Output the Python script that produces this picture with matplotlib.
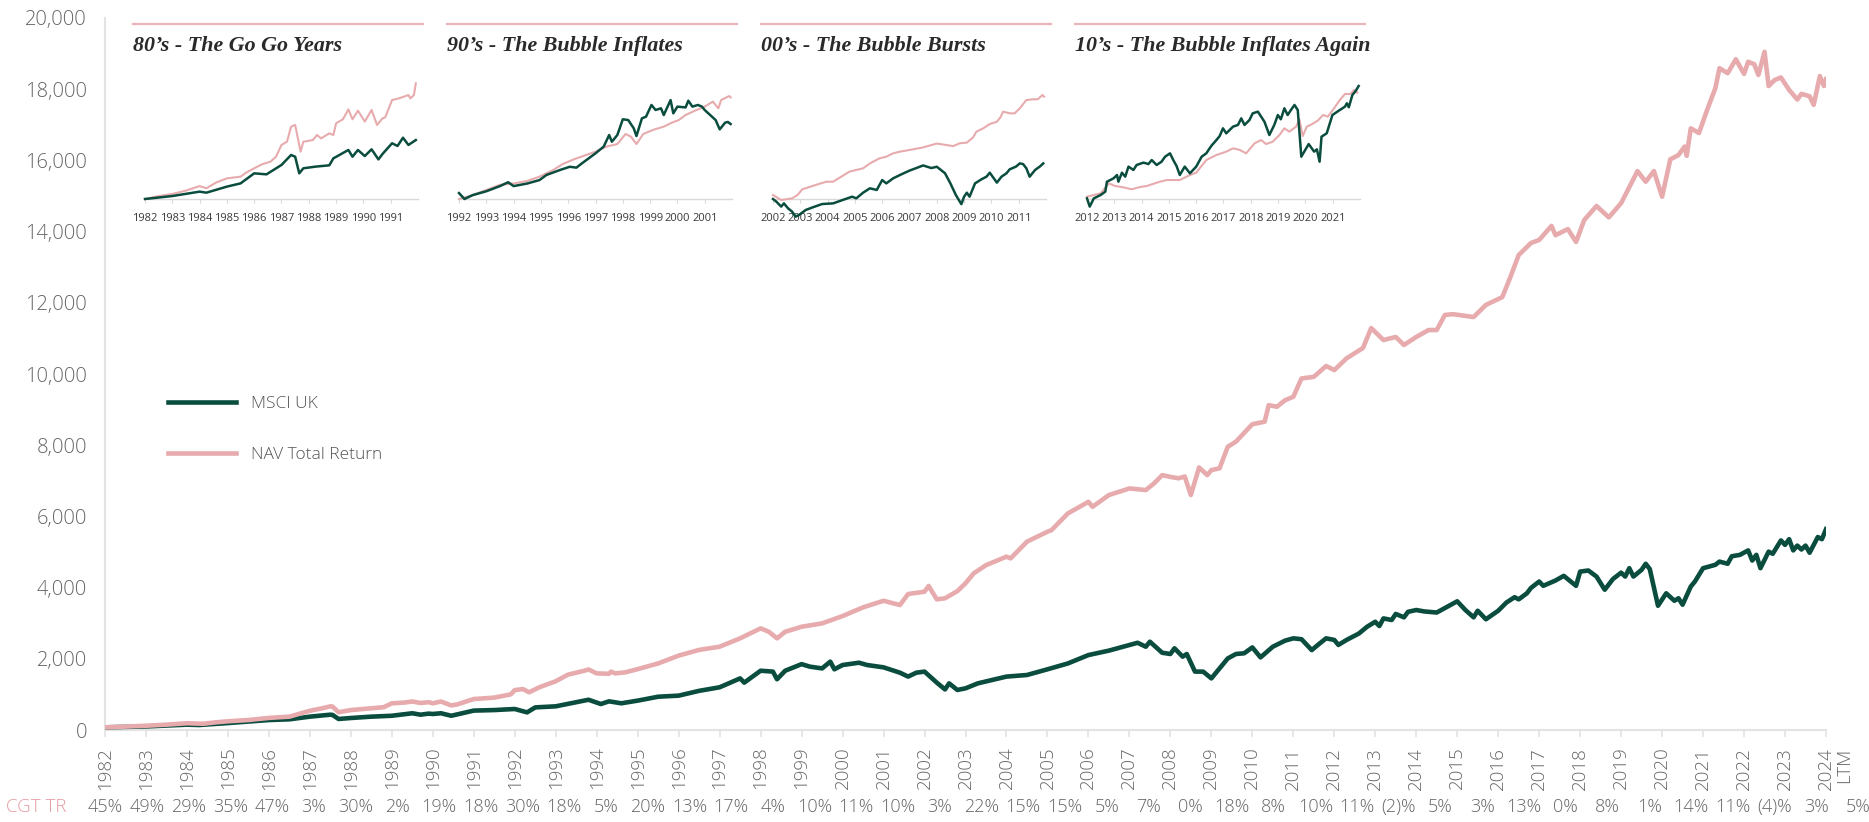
import matplotlib
matplotlib.use("Agg")
import matplotlib.pyplot as plt
import matplotlib.transforms as mtransforms
from matplotlib.lines import Line2D
from matplotlib.ticker import FuncFormatter

# ---------------- data ----------------
nav_t = [1982.0, 1982.5, 1983.0, 1983.5, 1984.0, 1984.4, 1984.7, 1985.0, 1985.5, 1986.0, 1986.5,
         1987.0, 1987.3, 1987.5, 1987.55, 1987.7, 1988.0, 1988.5, 1988.8, 1989.0, 1989.3, 1989.5,
         1989.7, 1989.9, 1990.0, 1990.2, 1990.45, 1990.6, 1991.0, 1991.5, 1991.9, 1992.0, 1992.2,
         1992.35, 1992.6, 1993.0, 1993.3, 1993.7, 1993.8, 1994.0, 1994.3, 1994.35, 1994.45, 1994.7,
         1995.0, 1995.5, 1996.0, 1996.5, 1997.0, 1997.5, 1998.0, 1998.2, 1998.4, 1998.6, 1999.0,
         1999.5, 2000.0, 2000.5, 2001.0, 2001.4, 2001.6, 2002.0, 2002.1, 2002.3, 2002.5, 2002.8,
         2003.0, 2003.2, 2003.5, 2004.0, 2004.1, 2004.5, 2005.0, 2005.1, 2005.5, 2006.0, 2006.1,
         2006.5, 2007.0, 2007.4, 2007.6, 2007.8, 2008.0, 2008.2, 2008.35, 2008.5, 2008.7, 2008.9,
         2009.0, 2009.2, 2009.4, 2009.6, 2010.0, 2010.3, 2010.4, 2010.6, 2010.8, 2011.0, 2011.2,
         2011.5, 2011.8, 2012.0, 2012.3, 2012.7, 2012.9, 2013.2, 2013.5, 2013.7, 2014.0, 2014.3,
         2014.5, 2014.7, 2014.9, 2015.4, 2015.7, 2016.1, 2016.3, 2016.5, 2016.8, 2017.0, 2017.3,
         2017.4, 2017.7, 2017.9, 2018.1, 2018.4, 2018.7, 2019.0, 2019.2, 2019.4, 2019.6, 2019.8,
         2020.0, 2020.2, 2020.4, 2020.55, 2020.6, 2020.7, 2020.9, 2021.1, 2021.3, 2021.4, 2021.6,
         2021.8, 2022.0, 2022.1, 2022.25, 2022.35, 2022.5, 2022.6, 2022.75, 2022.9, 2023.1, 2023.3,
         2023.4, 2023.6, 2023.7, 2023.85, 2023.95, 2024.0]
nav_v = [75, 95, 120, 150, 190, 175, 215, 245, 280, 340, 375,
         540, 610, 665, 660, 500, 560, 610, 640, 750, 770, 800,
         760, 780, 750, 800, 690, 720, 870, 910, 1000, 1120, 1150,
         1060, 1200, 1370, 1555, 1665, 1700, 1590, 1580, 1640, 1590, 1620,
         1710, 1870, 2090, 2250, 2340, 2575, 2855, 2760, 2575, 2760, 2900,
         2995, 3200, 3445, 3630, 3510, 3820, 3885, 4045, 3670, 3700, 3900,
         4120, 4400, 4630, 4870, 4820, 5290, 5570, 5615, 6085, 6410, 6270,
         6600, 6785, 6740, 6925, 7160, 7110, 7070, 7120, 6600, 7375, 7160,
         7300, 7350, 7955, 8100, 8590, 8660, 9125, 9080, 9265, 9360, 9875,
         9920, 10225, 10110, 10440, 10730, 11290, 10955, 11040, 10815, 11040, 11235,
         11235, 11660, 11680, 11600, 11940, 12160, 12730, 13340, 13680, 13765, 14160,
         13900, 14070, 13710, 14325, 14720, 14400, 14800, 15250, 15700, 15400, 15700,
         14980, 16030, 16150, 16390, 16130, 16900, 16770, 17420, 18030, 18590, 18450,
         18840, 18430, 18770, 18700, 18400, 19050, 18090, 18260, 18330, 17980, 17710,
         17870, 17800, 17560, 18370, 18090, 18280]

msci_t = [1982.0, 1983.0, 1984.0, 1984.3, 1985.0, 1986.0, 1986.5, 1987.0, 1987.5, 1987.55, 1987.7,
          1988.0, 1988.5, 1989.0, 1989.5, 1989.7, 1989.9, 1990.0, 1990.2, 1990.45, 1991.0, 1991.5,
          1992.0, 1992.3, 1992.5, 1993.0, 1993.8, 1994.1, 1994.3, 1994.6, 1995.0, 1995.5, 1996.0,
          1996.5, 1997.0, 1997.5, 1997.6, 1998.0, 1998.3, 1998.4, 1998.6, 1999.0, 1999.2, 1999.5,
          1999.7, 1999.8, 2000.0, 2000.4, 2000.6, 2001.0, 2001.4, 2001.6, 2001.8, 2002.0, 2002.3,
          2002.5, 2002.6, 2002.8, 2003.0, 2003.3, 2004.0, 2004.5, 2005.0, 2005.5, 2006.0, 2006.5,
          2007.0, 2007.2, 2007.4, 2007.5, 2007.8, 2008.0, 2008.1, 2008.3, 2008.4, 2008.6, 2008.8,
          2009.0, 2009.2, 2009.4, 2009.6, 2009.8, 2010.0, 2010.2, 2010.5, 2010.8, 2011.0, 2011.2,
          2011.45, 2011.6, 2011.8, 2012.0, 2012.1, 2012.3, 2012.6, 2012.8, 2013.0, 2013.1, 2013.2,
          2013.4, 2013.5, 2013.7, 2013.8, 2014.0, 2014.2, 2014.5, 2014.8, 2015.0, 2015.2, 2015.4,
          2015.5, 2015.7, 2016.0, 2016.2, 2016.4, 2016.5, 2016.7, 2016.8, 2017.0, 2017.1, 2017.4,
          2017.6, 2017.9, 2018.0, 2018.2, 2018.4, 2018.6, 2018.8, 2019.0, 2019.1, 2019.2, 2019.3,
          2019.5, 2019.6, 2019.7, 2019.9, 2020.1, 2020.3, 2020.4, 2020.5, 2020.7, 2020.8, 2021.0,
          2021.3, 2021.4, 2021.6, 2021.7, 2021.9, 2022.1, 2022.2, 2022.3, 2022.4, 2022.6, 2022.7,
          2022.9, 2023.0, 2023.1, 2023.2, 2023.3, 2023.4, 2023.5, 2023.6, 2023.8, 2023.9, 2024.0]
msci_v = [75, 100, 150, 140, 195, 280, 300, 375, 430, 425, 310,
          337, 375, 400, 470, 430, 460, 450, 470, 400, 545, 560,
          590, 495, 635, 665, 850, 730, 805, 750, 825, 935, 965,
          1100, 1200, 1450, 1330, 1665, 1640, 1425, 1665, 1850, 1780, 1730,
          1920, 1705, 1825, 1890, 1825, 1760, 1610, 1500, 1610, 1640, 1330,
          1140, 1310, 1125, 1170, 1310, 1500, 1545, 1705, 1870, 2105, 2230,
          2385, 2450, 2340, 2480, 2170, 2135, 2295, 2060, 2135, 1640, 1640,
          1450, 1730, 2010, 2135, 2155, 2320, 2040, 2340, 2510, 2575, 2550,
          2245, 2390, 2575, 2530, 2390, 2530, 2710, 2900, 3040, 2920, 3135,
          3090, 3260, 3165, 3320, 3370, 3330, 3300, 3490, 3615, 3370, 3165,
          3350, 3110, 3350, 3580, 3730, 3670, 3840, 3990, 4170, 4050, 4200,
          4330, 4050, 4450, 4480, 4310, 3940, 4240, 4420, 4310, 4545, 4310,
          4500, 4670, 4520, 3490, 3840, 3630, 3700, 3520, 4030, 4170, 4545,
          4640, 4730, 4670, 4880, 4920, 5045, 4760, 4920, 4545, 5010, 4950,
          5325, 5200, 5360, 5045, 5180, 5070, 5180, 4980, 5420, 5360, 5640]

year_ticks = list(range(1982, 2025))
cgt_labels = ["45%", "49%", "29%", "35%", "47%", "3%", "30%", "2%", "19%", "18%", "30%",
              "18%", "5%", "20%", "13%", "17%", "4%", "10%", "11%", "10%", "3%", "22%",
              "15%", "15%", "5%", "7%", "0%", "18%", "8%", "10%", "11%", "(2)%", "5%",
              "3%", "13%", "0%", "8%", "1%", "14%", "11%", "(4)%", "3%", "5%"]

inset_titles = ["80\u2019s - The Go Go Years", "90\u2019s - The Bubble Inflates",
                "00\u2019s - The Bubble Bursts", "10\u2019s - The Bubble Inflates Again"]
inset_starts = [1982, 1992, 2002, 2012]

# inset series (height within each inset box, baseline = start of decade)
i1_nav_t = [1982.0, 1982.5, 1983.0, 1983.5, 1984.0, 1984.25, 1984.6, 1985.0, 1985.5, 1985.7, 1986.0,
            1986.3, 1986.6, 1986.8, 1987.0, 1987.2, 1987.35, 1987.5, 1987.7, 1987.8, 1988.15, 1988.3,
            1988.45, 1988.75, 1988.9, 1989.0, 1989.25, 1989.45, 1989.6, 1989.8, 1990.05, 1990.3,
            1990.5, 1990.7, 1990.8, 1991.05, 1991.3, 1991.65, 1991.72, 1991.85, 1991.92]
i1_nav_v = [0, 2.3, 3.9, 6.5, 10, 8.3, 12.7, 16, 17.3, 20.4, 23.8,
            27, 29, 32.8, 41.9, 44.4, 56, 57.4, 36.7, 44.4, 45.7, 49.6,
            47, 50.9, 49.6, 58.7, 61.8, 69.5, 61.8, 68.5, 60, 69,
            57.4, 62.5, 63.3, 76.7, 78, 80.6, 78, 80.6, 89.7]
i1_msci_t = [1982.0, 1983.0, 1984.0, 1984.25, 1985.0, 1985.5, 1986.0, 1986.45, 1987.0, 1987.35,
             1987.5, 1987.65, 1987.8, 1988.25, 1988.75, 1988.9, 1989.45, 1989.6, 1989.8, 1990.05,
             1990.3, 1990.55, 1990.7, 1991.05, 1991.25, 1991.45, 1991.65, 1991.92]
i1_msci_v = [0, 2.3, 5.7, 4.9, 9.6, 12.1, 19.9, 19.1, 26.4, 34.1,
             32.8, 19.9, 23.8, 25.1, 26.1, 31.5, 38, 32.8, 38, 33.3,
             38.5, 30.7, 34.9, 43.2, 41.1, 47.5, 41.9, 45.7]

i2_nav_t = [1992.0, 1992.5, 1993.0, 1993.5, 1994.0, 1994.5, 1994.95, 1995.45, 1995.8, 1996.2, 1996.55,
            1997.0, 1997.4, 1997.8, 1998.1, 1998.3, 1998.5, 1998.75, 1999.1, 1999.5, 1999.8,
            2000.05, 2000.3, 2000.7, 2000.95, 2001.3, 2001.5, 2001.6, 2001.8, 2001.9, 2001.95]
i2_nav_v = [0, 3, 7, 11, 12, 14, 17.3, 22.5, 27.1, 30.7, 33.3,
            36.7, 40.6, 42.6, 50.4, 48.3, 42.6, 50.4, 53.5, 56.1, 59.2,
            61.2, 65.1, 69, 71, 75.5, 70.3, 76.7, 78.8, 79.8, 78.8]
i2_msci_t = [1992.0, 1992.2, 1992.5, 1993.0, 1993.5, 1993.8, 1994.0, 1994.5, 1994.95, 1995.2, 1995.7,
             1996.06, 1996.3, 1996.5, 1997.0, 1997.3, 1997.5, 1997.6, 1997.8, 1998.0, 1998.2,
             1998.4, 1998.5, 1998.7, 1998.85, 1999.05, 1999.2, 1999.4, 1999.5, 1999.75, 1999.85,
             2000.0, 2000.3, 2000.4, 2000.55, 2000.75, 2000.9, 2001.0, 2001.2, 2001.4, 2001.55,
             2001.75, 2001.85, 2001.95]
i2_msci_v = [4.6, 0, 3, 6, 10, 13, 10, 12, 14.7, 18.6, 22.5,
             25, 24.3, 27.6, 35.4, 40.6, 49.6, 44.4, 49.6, 61.8, 61.2,
             54.8, 48.8, 62.5, 63.8, 72.9, 69, 70.3, 65.1, 76.7, 66.4,
             71.6, 71, 76.2, 71.6, 72.9, 71.6, 69, 65.1, 61.2, 54,
             59.2, 59.7, 58.1]

i3_nav_t = [2002.0, 2002.1, 2002.3, 2002.45, 2002.7, 2002.9, 2003.07, 2003.57, 2003.95, 2004.2, 2004.5,
            2004.8, 2005.05, 2005.3, 2005.55, 2005.9, 2006.15, 2006.4, 2006.65, 2007.0, 2007.5,
            2008.0, 2008.3, 2008.6, 2008.84, 2009.1, 2009.33, 2009.45, 2009.7, 2009.94, 2010.2,
            2010.33, 2010.43, 2010.67, 2010.85, 2011.04, 2011.28, 2011.52, 2011.7, 2011.87, 2011.93]
i3_nav_v = [3.1, 1.8, -0.8, -0.3, 0.5, 3.1, 7.5, 10.9, 13.4, 13.4, 17.3,
            21.2, 22.5, 23.8, 27.6, 31.5, 32.8, 35.4, 36.7, 38, 40,
            43, 42, 41, 43.2, 43.7, 47.8, 52.2, 54.8, 58.1, 59.9,
            63.3, 67.7, 66.4, 66.4, 70.3, 76.7, 77.3, 77.3, 80.6, 79.3]
i3_msci_t = [2002.0, 2002.12, 2002.3, 2002.4, 2002.55, 2002.7, 2002.83, 2002.95, 2003.2, 2003.45,
             2003.8, 2004.2, 2004.55, 2004.9, 2005.05, 2005.3, 2005.55, 2005.8, 2006.0, 2006.15,
             2006.4, 2006.65, 2007.0, 2007.5, 2007.8, 2008.0, 2008.3, 2008.5, 2008.7, 2008.9,
             2009.0, 2009.1, 2009.2, 2009.4, 2009.63, 2009.82, 2009.94, 2010.2, 2010.37, 2010.55,
             2010.67, 2010.9, 2011.04, 2011.16, 2011.28, 2011.4, 2011.6, 2011.77, 2011.9]
i3_msci_v = [0, -2, -5.9, -3.4, -7.2, -9.8, -13.7, -12.4, -8.5, -6.5,
             -3.9, -3.4, -0.8, 1.8, 0.5, 4.9, 8.3, 7, 14.7, 12.1,
             16, 18.6, 22, 26, 24, 25, 20, 12, 3, -4,
             1.8, 4.9, 1.8, 12.1, 15.2, 17.3, 20.4, 12.7, 17.3, 19.9,
             23, 25.1, 27.6, 27.1, 23.8, 17.3, 22.5, 25.1, 27.6]

i4_nav_t = [2012.0, 2012.5, 2012.8, 2013.03, 2013.34, 2013.64, 2013.88, 2014.19, 2014.67, 2014.92,
            2015.4, 2015.77, 2016.0, 2016.37, 2016.74, 2017.1, 2017.35, 2017.6, 2017.83, 2018.14,
            2018.38, 2018.56, 2018.8, 2019.05, 2019.23, 2019.41, 2019.66, 2019.78, 2019.9, 2020.05,
            2020.25, 2020.45, 2020.65, 2020.82, 2021.05, 2021.26, 2021.45, 2021.65, 2021.78, 2021.9]
i4_nav_v = [1.8, 4.4, 12.1, 10.1, 9, 7.5, 9, 10.1, 13.4, 14.7,
            14.7, 18.6, 20.4, 30.2, 34.1, 36.7, 39.3, 38, 35.4, 43.2,
            45.7, 42.6, 44.4, 49.6, 54.8, 52.2, 56.1, 61.8, 48.8, 56.1,
            58.1, 60.7, 65.1, 63.8, 70.3, 76.7, 81.4, 81.4, 84.5, 82.4]
i4_msci_t = [2012.0, 2012.1, 2012.25, 2012.5, 2012.67, 2012.73, 2012.97, 2013.1, 2013.15, 2013.28,
             2013.4, 2013.52, 2013.7, 2013.82, 2014.07, 2014.25, 2014.37, 2014.55, 2014.73, 2014.86,
             2015.04, 2015.16, 2015.28, 2015.4, 2015.58, 2015.77, 2016.0, 2016.2, 2016.37, 2016.55,
             2016.74, 2016.86, 2016.98, 2017.1, 2017.35, 2017.53, 2017.65, 2017.77, 2017.95, 2018.07,
             2018.26, 2018.38, 2018.5, 2018.68, 2018.86, 2018.99, 2019.1, 2019.23, 2019.35, 2019.47,
             2019.6, 2019.72, 2019.85, 2020.12, 2020.32, 2020.42, 2020.52, 2020.59, 2020.78, 2020.99,
             2021.26, 2021.45, 2021.52, 2021.59, 2021.72, 2021.85, 2021.95]
i4_msci_v = [0.5, -5.9, 0.5, 3.1, 5.7, 13.4, 16, 18.6, 13.4, 20.4,
             17.3, 25.1, 22.5, 26.4, 28.2, 27.1, 30.2, 26.4, 28.9, 32.8,
             35.4, 30.2, 25.6, 18.6, 25.1, 19.9, 25.1, 32.8, 35.4, 41.1,
             45.7, 48.8, 54.8, 50.9, 56.1, 57.4, 62.5, 57.4, 61.2, 66.4,
             67.7, 63.8, 59.9, 49.6, 57.4, 65.1, 61.8, 70.3, 65.1, 69,
             72.9, 69, 32.8, 42.6, 36.7, 38.5, 28.9, 48.3, 50.9, 65.1,
             69, 71.6, 74.2, 71.1, 80.6, 84, 87.6]

inset_nav = [(i1_nav_t, i1_nav_v), (i2_nav_t, i2_nav_v), (i3_nav_t, i3_nav_v), (i4_nav_t, i4_nav_v)]
inset_msci = [(i1_msci_t, i1_msci_v), (i2_msci_t, i2_msci_v), (i3_msci_t, i3_msci_v), (i4_msci_t, i4_msci_v)]

# ---------------- style ----------------
W, H = 1869, 822
GREEN = "#0a4d3e"
PINK = "#e7abae"
PINK_TXT = "#e59aa1"
GREY_TXT = "#666666"
AXIS_GREY = "#e3e3e3"
SANS = ["Open Sans", "DejaVu Sans"]
SERIF = ["Liberation Serif", "DejaVu Serif"]
TICK_FS = 13.5

plt.rcParams["font.family"] = SANS
fig = plt.figure(figsize=(W / 100, H / 100), dpi=100)
fig.patch.set_facecolor("white")

# main axes
x0_px, x1_px, ytop_px, ybot_px = 105, 1826, 18, 730
ax = fig.add_axes([x0_px / W, 1 - ybot_px / H, (x1_px - x0_px) / W, (ybot_px - ytop_px) / H])
ax.plot(msci_t, msci_v, color=GREEN, lw=3.3, solid_joinstyle="round", label="MSCI UK", zorder=3)
ax.plot(nav_t, nav_v, color=PINK, lw=3.3, solid_joinstyle="round", label="NAV Total Return", zorder=4)
ax.set_xlim(1982, 2024)
ax.set_ylim(0, 20000)
ax.set_yticks(range(0, 20001, 2000))
ax.yaxis.set_major_formatter(FuncFormatter(lambda v, p: f"{int(v):,}"))
ax.set_xticks(year_ticks)
ax.set_xticklabels([str(y) for y in year_ticks], rotation=90)
for s in ["top", "right"]:
    ax.spines[s].set_visible(False)
for s in ["left", "bottom"]:
    ax.spines[s].set_color(AXIS_GREY)
    ax.spines[s].set_linewidth(1.5)
ax.tick_params(axis="y", length=0, pad=13, labelsize=14.5, labelcolor=GREY_TXT)
ax.tick_params(axis="x", length=5, width=1.2, color=AXIS_GREY, pad=7, labelsize=TICK_FS, labelcolor=GREY_TXT)
for lab in ax.get_xticklabels() + ax.get_yticklabels():
    lab.set_fontweight("light")

trans_x = mtransforms.blended_transform_factory(ax.transData, ax.transAxes)
ax.text(2024.45, -(748 - 730) / (ybot_px - ytop_px), "LTM", rotation=90, ha="center", va="top",
        fontsize=TICK_FS, color=GREY_TXT, fontweight="light", transform=trans_x)

# CGT TR row
trans_row = mtransforms.blended_transform_factory(ax.transData, fig.transFigure)
row_y = 1 - 807 / H
first_x, last_x = 1982.0, 2024.78
n = len(cgt_labels)
for i, lab in enumerate(cgt_labels):
    xv = first_x + i * (last_x - first_x) / (n - 1)
    ax.text(xv, row_y, lab, ha="center", va="center", fontsize=13, color=GREY_TXT,
            fontweight="light", transform=trans_row, clip_on=False)
fig.text(6 / W, row_y, "CGT TR", ha="left", va="center", fontsize=TICK_FS, color=PINK_TXT, fontweight="light")

# legend
leg = ax.legend(loc="upper left", bbox_to_anchor=(168 / W, 1 - 396 / H), bbox_transform=fig.transFigure,
                frameon=False, fontsize=12.5, handlelength=3.9, handletextpad=0.9, labelspacing=2.0,
                borderpad=0, borderaxespad=0)
for t in leg.get_texts():
    t.set_color("#555555")
    t.set_fontweight("light")

# insets
for k in range(4):
    lx = 133 + 314 * k
    fig.add_artist(Line2D([lx / W, (lx + 290) / W], [1 - 24 / H, 1 - 24 / H], color="#e9b5b9", lw=1.6,
                          transform=fig.transFigure))
    fig.text(lx / W, 1 - 51 / H, inset_titles[k], ha="left", va="baseline", fontsize=15.8,
             family=SERIF, style="italic", fontweight="bold", color="#2a2a2a")
    iax = fig.add_axes([(lx + 12) / W, 1 - 199 / H, 273 / W, 129 / H])
    iax.patch.set_alpha(0)
    st = inset_starts[k]
    iax.plot(*inset_nav[k], color=PINK, lw=1.5, clip_on=False, zorder=3)
    iax.plot(*inset_msci[k], color=GREEN, lw=1.8, clip_on=False, zorder=4)
    iax.set_xlim(st, st + 10)
    iax.set_ylim(0, 100)
    iax.set_xticks(range(st, st + 10))
    iax.set_xticklabels([str(y) for y in range(st, st + 10)])
    iax.set_yticks([])
    for s in ["top", "right", "left"]:
        iax.spines[s].set_visible(False)
    iax.spines["bottom"].set_color("#d9d9d9")
    iax.spines["bottom"].set_linewidth(1.0)
    iax.tick_params(axis="x", length=3, width=0.8, color="#d9d9d9", pad=7, labelsize=8, labelcolor="#3a3a3a")

fig.savefig("out.png", dpi=100, facecolor="white")
